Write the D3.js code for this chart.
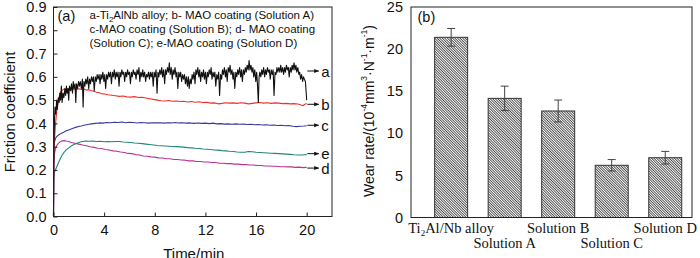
<!DOCTYPE html>
<html><head><meta charset="utf-8">
<script src="https://cdn.jsdelivr.net/npm/d3@7"></script>
<style>
html,body{margin:0;padding:0;background:#fff;}
svg{display:block;}
text{font-family:"Liberation Sans",Arial,sans-serif;fill:#111;}
.serif{font-family:"Liberation Serif","Times New Roman",serif;}
</style></head>
<body>
<svg id="chart" width="700" height="258"></svg>
<script>
// ---------- Data: panel (a) friction coefficient vs time ----------
const curveA = [[0,0],[0.02,0.20],[0.04,0.30],[0.08,0.42],[0.12,0.47],[0.18,0.44],[0.25,0.50],[0.3,0.46],[0.38,0.51],[0.45,0.49],[0.5,0.53],[0.56,0.50],[0.62,0.56],[0.68,0.49],[0.75,0.53],[0.82,0.51],[0.9,0.55],[0.96,0.52],[1.02,0.56],[1.08,0.53],[1.15,0.55],[1.2,0.50],[1.26,0.56],[1.35,0.54],[1.42,0.57],[1.5,0.53],[1.56,0.58],[1.62,0.55],[1.7,0.57],[1.76,0.49],[1.82,0.57],[1.9,0.55],[1.98,0.58],[2.05,0.56],[2.12,0.58],[2.2,0.55],[2.28,0.59],[2.34,0.47],[2.4,0.58],[2.48,0.56],[2.55,0.59],[2.62,0.57],[2.7,0.60],[2.78,0.55],[2.85,0.59],[2.92,0.57],[3.0,0.60],[3.08,0.58],[3.15,0.60],[3.22,0.54],[3.3,0.60],[3.38,0.58],[3.45,0.61],[3.52,0.59],[3.6,0.61],[3.68,0.57],[3.75,0.61],[3.82,0.59],[3.9,0.62],[3.98,0.58],[4.05,0.61],[4.12,0.55],[4.2,0.61],[4.28,0.59],[4.35,0.62],[4.42,0.60],[4.5,0.62],[4.58,0.57],[4.65,0.62],[4.72,0.60],[4.8,0.63],[4.88,0.59],[4.95,0.62],[5.02,0.60],[5.1,0.62],[5.18,0.56],[5.25,0.62],[5.32,0.60],[5.4,0.63],[5.48,0.61],[5.55,0.62],[5.62,0.58],[5.7,0.62],[5.78,0.60],[5.85,0.63],[5.92,0.61],[6.0,0.62],[6.08,0.57],[6.15,0.62],[6.22,0.60],[6.3,0.63],[6.38,0.61],[6.45,0.62],[6.52,0.59],[6.6,0.63],[6.68,0.61],[6.75,0.64],[6.82,0.58],[6.9,0.62],[6.98,0.60],[7.05,0.63],[7.12,0.60],[7.2,0.62],[7.28,0.58],[7.35,0.61],[7.42,0.60],[7.5,0.62],[7.58,0.59],[7.65,0.62],[7.72,0.60],[7.8,0.62],[7.88,0.56],[7.95,0.62],[8.02,0.60],[8.1,0.63],[8.18,0.53],[8.25,0.62],[8.32,0.60],[8.4,0.63],[8.48,0.61],[8.55,0.64],[8.62,0.60],[8.7,0.63],[8.78,0.57],[8.85,0.63],[8.92,0.61],[9.0,0.64],[9.08,0.62],[9.15,0.66],[9.22,0.61],[9.3,0.64],[9.38,0.59],[9.45,0.63],[9.52,0.61],[9.6,0.64],[9.68,0.60],[9.75,0.62],[9.82,0.55],[9.9,0.62],[9.98,0.60],[10.05,0.62],[10.12,0.58],[10.2,0.61],[10.28,0.59],[10.35,0.61],[10.42,0.57],[10.5,0.60],[10.58,0.56],[10.65,0.60],[10.72,0.55],[10.8,0.59],[10.88,0.57],[10.95,0.61],[11.02,0.59],[11.1,0.62],[11.18,0.57],[11.25,0.63],[11.32,0.61],[11.4,0.64],[11.48,0.60],[11.55,0.63],[11.62,0.58],[11.7,0.62],[11.78,0.60],[11.85,0.63],[11.92,0.59],[12.0,0.62],[12.08,0.57],[12.15,0.62],[12.22,0.60],[12.3,0.63],[12.38,0.61],[12.45,0.64],[12.52,0.59],[12.6,0.62],[12.68,0.60],[12.75,0.62],[12.82,0.56],[12.9,0.61],[12.98,0.59],[13.05,0.62],[13.12,0.52],[13.2,0.61],[13.28,0.59],[13.35,0.63],[13.42,0.61],[13.5,0.64],[13.58,0.60],[13.65,0.63],[13.72,0.58],[13.8,0.64],[13.88,0.62],[13.95,0.65],[14.02,0.61],[14.1,0.63],[14.18,0.59],[14.25,0.62],[14.32,0.55],[14.4,0.62],[14.48,0.60],[14.55,0.63],[14.62,0.61],[14.7,0.64],[14.78,0.60],[14.85,0.63],[14.92,0.58],[15.0,0.63],[15.08,0.61],[15.15,0.64],[15.22,0.62],[15.3,0.65],[15.38,0.63],[15.45,0.67],[15.52,0.63],[15.6,0.65],[15.68,0.62],[15.75,0.64],[15.82,0.60],[15.9,0.63],[15.98,0.58],[16.05,0.62],[16.12,0.56],[16.18,0.49],[16.24,0.60],[16.3,0.62],[16.38,0.60],[16.45,0.63],[16.52,0.61],[16.6,0.64],[16.68,0.60],[16.75,0.63],[16.82,0.61],[16.9,0.64],[16.98,0.62],[17.05,0.63],[17.12,0.59],[17.2,0.63],[17.28,0.61],[17.35,0.63],[17.42,0.52],[17.5,0.62],[17.58,0.61],[17.65,0.64],[17.72,0.62],[17.8,0.64],[17.88,0.62],[17.95,0.65],[18.02,0.62],[18.1,0.64],[18.18,0.61],[18.25,0.64],[18.32,0.62],[18.4,0.65],[18.48,0.63],[18.55,0.64],[18.62,0.60],[18.7,0.64],[18.78,0.62],[18.85,0.65],[18.92,0.63],[19.0,0.66],[19.08,0.63],[19.15,0.65],[19.22,0.62],[19.3,0.64],[19.38,0.61],[19.45,0.62],[19.52,0.59],[19.6,0.61],[19.68,0.58],[19.75,0.60],[19.82,0.59],[19.9,0.58],[19.95,0.54],[20.0,0.50]];

const curveB = [[0,0],[0.02,0.27],[0.05,0.31],[0.1,0.35],[0.15,0.39],[0.2,0.42],[0.25,0.45],[0.3,0.47],[0.35,0.49],[0.4,0.505],[0.5,0.525],[0.6,0.537],[0.7,0.543],[0.85,0.548],[1.0,0.546],[1.2,0.549],[1.4,0.544],[1.6,0.548],[1.8,0.545],[2.0,0.549],[2.2,0.546],[2.4,0.548],[2.6,0.543],[2.8,0.545],[3.0,0.540],[3.2,0.538],[3.4,0.534],[3.6,0.532],[3.8,0.528],[4.0,0.526],[4.3,0.523],[4.6,0.521],[4.9,0.519],[5.2,0.516],[5.5,0.518],[5.8,0.514],[6.1,0.513],[6.4,0.515],[6.7,0.511],[7.0,0.512],[7.3,0.509],[7.6,0.506],[7.9,0.503],[8.2,0.500],[8.5,0.497],[8.8,0.496],[9.1,0.498],[9.4,0.495],[9.7,0.496],[10.0,0.494],[10.3,0.495],[10.6,0.492],[10.9,0.494],[11.2,0.491],[11.5,0.493],[11.8,0.490],[12.1,0.491],[12.4,0.487],[12.7,0.488],[13.0,0.484],[13.3,0.486],[13.6,0.489],[13.9,0.487],[14.2,0.488],[14.5,0.486],[14.8,0.489],[15.1,0.487],[15.4,0.484],[15.7,0.486],[16.0,0.488],[16.3,0.490],[16.6,0.487],[16.9,0.489],[17.2,0.486],[17.5,0.488],[17.8,0.487],[18.1,0.485],[18.4,0.486],[18.7,0.484],[19.0,0.485],[19.3,0.483],[19.5,0.480],[19.7,0.476],[19.85,0.482],[20.0,0.485]];

const curveC = [[0,0],[0.02,0.26],[0.04,0.30],[0.08,0.32],[0.15,0.335],[0.25,0.343],[0.4,0.350],[0.6,0.357],[0.8,0.362],[1.0,0.368],[1.2,0.372],[1.4,0.376],[1.6,0.380],[1.8,0.384],[2.0,0.387],[2.2,0.389],[2.4,0.392],[2.6,0.394],[2.8,0.396],[3.0,0.398],[3.3,0.400],[3.6,0.402],[3.9,0.401],[4.2,0.404],[4.5,0.403],[4.8,0.405],[5.1,0.404],[5.4,0.406],[5.7,0.403],[6.0,0.405],[6.3,0.404],[6.6,0.402],[6.9,0.404],[7.2,0.403],[7.5,0.401],[7.8,0.403],[8.1,0.402],[8.4,0.403],[8.7,0.401],[9.0,0.403],[9.3,0.402],[9.6,0.404],[9.9,0.402],[10.2,0.403],[10.5,0.401],[10.8,0.402],[11.1,0.400],[11.4,0.402],[11.7,0.400],[12.0,0.401],[12.3,0.399],[12.6,0.401],[12.9,0.398],[13.2,0.399],[13.5,0.397],[13.8,0.398],[14.1,0.396],[14.4,0.398],[14.7,0.396],[15.0,0.397],[15.3,0.395],[15.6,0.396],[15.9,0.394],[16.2,0.395],[16.5,0.393],[16.8,0.394],[17.1,0.392],[17.4,0.393],[17.7,0.391],[18.0,0.392],[18.3,0.390],[18.6,0.391],[18.9,0.388],[19.2,0.386],[19.5,0.388],[19.8,0.389],[20.0,0.390]];

const curveD = [[0,0],[0.02,0.19],[0.04,0.24],[0.08,0.27],[0.15,0.29],[0.25,0.305],[0.4,0.315],[0.55,0.322],[0.7,0.325],[0.85,0.326],[1.0,0.324],[1.2,0.322],[1.4,0.318],[1.6,0.316],[1.8,0.313],[2.0,0.311],[2.3,0.307],[2.6,0.304],[2.9,0.300],[3.2,0.297],[3.5,0.293],[3.8,0.292],[4.1,0.288],[4.4,0.286],[4.7,0.282],[5.0,0.280],[5.3,0.277],[5.6,0.275],[5.9,0.271],[6.2,0.270],[6.5,0.266],[6.8,0.264],[7.1,0.260],[7.4,0.259],[7.7,0.256],[8.0,0.255],[8.3,0.252],[8.6,0.251],[8.9,0.248],[9.2,0.248],[9.5,0.245],[9.8,0.245],[10.1,0.243],[10.4,0.242],[10.7,0.239],[11.0,0.239],[11.3,0.236],[11.6,0.236],[11.9,0.234],[12.2,0.234],[12.5,0.232],[12.8,0.232],[13.1,0.229],[13.4,0.229],[13.7,0.227],[14.0,0.227],[14.3,0.225],[14.6,0.225],[14.9,0.223],[15.2,0.223],[15.5,0.221],[15.8,0.221],[16.1,0.219],[16.4,0.219],[16.7,0.217],[17.0,0.217],[17.3,0.216],[17.6,0.216],[17.9,0.214],[18.2,0.214],[18.5,0.213],[18.8,0.213],[19.1,0.211],[19.4,0.212],[19.7,0.210],[20.0,0.211]];

const curveE = [[0,0],[0.02,0.14],[0.04,0.17],[0.08,0.19],[0.15,0.20],[0.25,0.213],[0.4,0.232],[0.55,0.250],[0.7,0.265],[0.85,0.277],[1.0,0.286],[1.2,0.295],[1.4,0.303],[1.6,0.309],[1.8,0.314],[2.0,0.318],[2.2,0.321],[2.4,0.323],[2.6,0.324],[2.8,0.323],[3.1,0.324],[3.4,0.322],[3.7,0.323],[4.0,0.321],[4.3,0.322],[4.6,0.321],[4.9,0.322],[5.2,0.322],[5.5,0.320],[5.8,0.319],[6.1,0.318],[6.4,0.316],[6.7,0.315],[7.0,0.313],[7.3,0.311],[7.6,0.309],[7.9,0.307],[8.2,0.305],[8.5,0.304],[8.8,0.303],[9.1,0.302],[9.4,0.301],[9.7,0.300],[10.0,0.299],[10.3,0.298],[10.6,0.296],[10.9,0.295],[11.2,0.293],[11.5,0.292],[11.8,0.290],[12.1,0.289],[12.4,0.288],[12.7,0.286],[13.0,0.285],[13.3,0.283],[13.6,0.282],[13.9,0.280],[14.2,0.279],[14.5,0.277],[14.8,0.276],[15.1,0.276],[15.4,0.279],[15.7,0.278],[16.0,0.276],[16.3,0.275],[16.6,0.274],[16.9,0.273],[17.2,0.272],[17.5,0.271],[17.8,0.270],[18.1,0.269],[18.4,0.268],[18.7,0.267],[19.0,0.265],[19.3,0.264],[19.6,0.264],[19.8,0.265],[20.0,0.266]];

const curveNames   = ["a", "b", "c", "d", "e"];
const curveColors  = ["#111111", "#f2302a", "#3a3a98", "#b8348f", "#22847a"];
const curveLabelY  = [0.625, 0.482, 0.392, 0.208, 0.270];
const timeTicks    = [0, 4, 8, 12, 16, 20];
const frictionTicks = [0, 0.1, 0.2, 0.3, 0.4, 0.5, 0.6, 0.7, 0.8, 0.9];

// ---------- Data: panel (b) wear rate ----------
const samples   = ["Ti2Al/Nb alloy", "Solution A", "Solution B", "Solution C", "Solution D"];
const wearRate  = [21.4, 14.15, 12.65, 6.2, 7.1];
const wearError = [1.05, 1.45, 1.3, 0.68, 0.75];
const wearTicks = [0, 5, 10, 15, 20, 25];

// ---------- Drawing ----------
const svg = d3.select("#chart");
const defs = svg.append("defs");
const pat = defs.append("pattern").attr("id","hatch").attr("patternUnits","userSpaceOnUse")
  .attr("width",1.8).attr("height",1.8).attr("patternTransform","rotate(45)");
pat.append("rect").attr("width",1.8).attr("height",1.8).attr("fill","#fff");
pat.append("line").attr("x1",0).attr("x2",1.8).attr("y1",0.4).attr("y2",0.4)
  .attr("stroke","#1a1a1a").attr("stroke-width",0.75);

const arrowM = defs.append("marker").attr("id","arr").attr("viewBox","0 0 10 10")
  .attr("refX",9).attr("refY",5).attr("markerWidth",5).attr("markerHeight",5)
  .attr("markerUnits","userSpaceOnUse").attr("orient","auto");
arrowM.append("path").attr("d","M0,1 L10,5 L0,9 z").attr("fill","#111");

// ----- Panel (a) -----
const A = {left:53.5, right:332, top:7, bottom:216.5};
const xA = d3.scaleLinear().domain([0,22]).range([A.left, A.right]);
const yA = d3.scaleLinear().domain([0,0.9]).range([A.bottom, A.top]);
const gA = svg.append("g");

const curves = [curveA, curveB, curveC, curveD, curveE];
const line = d3.line().x(d => xA(d[0])).y(d => yA(d[1]));
const drawOrder = [4,3,2,1,0];
drawOrder.forEach(i => {
  gA.append("path").datum(curves[i]).attr("d", line)
    .attr("fill","none").attr("stroke", curveColors[i]).attr("stroke-width", 1.1)
    .attr("stroke-linejoin","round");
});

gA.append("rect").attr("x",A.left).attr("y",A.top).attr("width",A.right-A.left).attr("height",A.bottom-A.top)
  .attr("fill","none").attr("stroke","#222").attr("stroke-width",1);

const axL = gA.append("g").attr("transform",`translate(${A.left},0)`)
  .call(d3.axisLeft(yA).tickValues(frictionTicks).tickFormat(d3.format(".1f")).tickSizeInner(-4).tickSizeOuter(0).tickPadding(7));
const axB = gA.append("g").attr("transform",`translate(0,${A.bottom})`)
  .call(d3.axisBottom(xA).tickValues(timeTicks).tickSizeInner(-4).tickSizeOuter(0).tickPadding(8));
[axL, axB].forEach(ax => {
  ax.select(".domain").remove();
  ax.selectAll(".tick line").attr("stroke","#222");
  ax.selectAll("text").attr("font-size",14.5).attr("fill","#111")
    .style("font-family","'Liberation Sans',Arial,sans-serif");
});

gA.append("text").attr("transform",`translate(9,112) rotate(-90)`).attr("text-anchor","middle")
  .attr("dominant-baseline","central").attr("font-size",15).text("Friction coefficient");
gA.append("text").attr("x",(A.left+A.right)/2+1).attr("y",258.5).attr("text-anchor","middle")
  .attr("font-size",15).text("Time/min");

gA.append("text").attr("x",57.5).attr("y",20.5).attr("font-size",14.5).text("(a)");
const leg = gA.append("text").attr("font-size",11.5).attr("x",89.5);
const l1 = leg.append("tspan").attr("x",89.5).attr("y",19);
l1.append("tspan").text("a-Ti");
l1.append("tspan").attr("font-size",8).attr("dy",3).text("2");
l1.append("tspan").attr("dy",-3).text("AlNb alloy; b- MAO coating (Solution A)");
leg.append("tspan").attr("x",89.5).attr("y",33).text("c-MAO coating (Solution B); d- MAO coating");
leg.append("tspan").attr("x",89.5).attr("y",47).text("(Solution C); e-MAO coating (Solution D)");

curveNames.forEach((n, i) => {
  const yy = yA(curveLabelY[i]);
  gA.append("line").attr("x1",xA(20.05)).attr("x2",xA(20.95)).attr("y1",yy).attr("y2",yy)
    .attr("stroke","#111").attr("stroke-width",1).attr("marker-end","url(#arr)");
  gA.append("text").attr("x",xA(21.15)).attr("y",yy).attr("dominant-baseline","central")
    .attr("font-size",15).text(n);
});

// ----- Panel (b) -----
const B = {left:411, right:692, top:7, bottom:217.5};
const xB = d3.scaleLinear().domain([0.25,5.5]).range([B.left, B.right]);
const yB = d3.scaleLinear().domain([0,25]).range([B.bottom, B.top]);
const gB = svg.append("g");
const barW = 33;

gB.selectAll("rect.bar").data(wearRate).join("rect").attr("class","bar")
  .attr("x",(d,i) => xB(i+1) - barW/2).attr("width",barW)
  .attr("y",d => yB(d)).attr("height",d => yB(0)-yB(d))
  .attr("fill","url(#hatch)").attr("stroke","#333").attr("stroke-width",1);

wearRate.forEach((v,i) => {
  const cx = xB(i+1), y1 = yB(v+wearError[i]), y2 = yB(v-wearError[i]);
  gB.append("line").attr("x1",cx).attr("x2",cx).attr("y1",y1).attr("y2",y2).attr("stroke","#444").attr("stroke-width",1);
  gB.append("line").attr("x1",cx-4).attr("x2",cx+4).attr("y1",y1).attr("y2",y1).attr("stroke","#444").attr("stroke-width",1);
  gB.append("line").attr("x1",cx-4).attr("x2",cx+4).attr("y1",y2).attr("y2",y2).attr("stroke","#444").attr("stroke-width",1);
});

gB.append("rect").attr("x",B.left).attr("y",B.top).attr("width",B.right-B.left).attr("height",B.bottom-B.top)
  .attr("fill","none").attr("stroke","#222").attr("stroke-width",1);

const axBL = gB.append("g").attr("transform",`translate(${B.left},0)`)
  .call(d3.axisLeft(yB).tickValues(wearTicks).tickSize(0).tickPadding(8));
axBL.select(".domain").remove();
axBL.selectAll("text").attr("font-size",14.5).attr("fill","#111").style("font-family","'Liberation Sans',Arial,sans-serif");

samples.forEach((s,i) => {
  const t = gB.append("text").attr("class","serif").attr("x",xB(i+1)).attr("y", i%2===0 ? 233 : 248)
    .attr("text-anchor","middle").attr("font-size",14.5);
  if (s.startsWith("Ti2")) {
    t.append("tspan").text("Ti");
    t.append("tspan").attr("font-size",9).attr("dy",3).text("2");
    t.append("tspan").attr("dy",-3).text(s.slice(3));
  } else t.text(s);
});

gB.append("text").attr("x",417.5).attr("y",22).attr("font-size",14.5).text("(b)");

const yl = gB.append("text").attr("transform",`translate(369,111) rotate(-90)`).attr("text-anchor","middle")
  .attr("dominant-baseline","central").attr("font-size",14);
yl.append("tspan").text("Wear rate/(10");
yl.append("tspan").attr("font-size",8.5).attr("dy",-5).text("-4");
yl.append("tspan").attr("dy",5).text("mm");
yl.append("tspan").attr("font-size",8.5).attr("dy",-5).text("3");
yl.append("tspan").attr("dy",5).text("·N");
yl.append("tspan").attr("font-size",8.5).attr("dy",-5).text("-1");
yl.append("tspan").attr("dy",5).text("·m");
yl.append("tspan").attr("font-size",8.5).attr("dy",-5).text("-1");
yl.append("tspan").attr("dy",5).text(")");
</script>
</body></html>
